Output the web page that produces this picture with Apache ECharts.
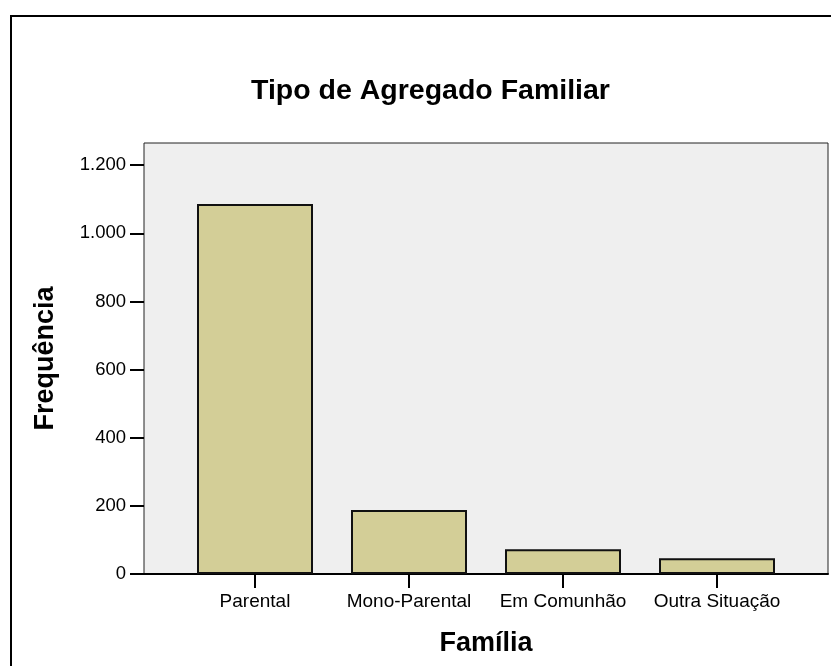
<!DOCTYPE html>
<html>
<head>
<meta charset="utf-8">
<script src="https://cdn.jsdelivr.net/npm/echarts@6/dist/echarts.min.js"></script>
<style>
  html, body { margin: 0; padding: 0; background: #fff; }
  #chart { width: 831px; height: 666px; }
</style>
</head>
<body>
<div id="chart"></div>
<script>
// dados
const familia = ['Parental', 'Mono-Parental', 'Em Comunhão', 'Outra Situação']
const frequencia = [1086, 188, 73, 46]
const yTicks = [0, 200, 400, 600, 800, 1000, 1200]

const FONT = "'Liberation Sans', Arial, Helvetica, sans-serif"

// 1.200 em vez de 1,200
function fmt (v) {
  return String(v).replace(/\B(?=(\d{3})+(?!\d))/g, '.')
}

let myChart = echarts.init(document.getElementById('chart'))
myChart.setOption({
  animation: false,
  backgroundColor: '#fff',
  textStyle: { fontFamily: FONT },
  title: {
    text: 'Tipo de Agregado Familiar',
    left: 246,
    top: 72,
    textStyle: { fontFamily: FONT, fontSize: 28.5, fontWeight: 'bold', color: '#000' },
  },
  graphic: [
    {
      type: 'rect',
      shape: { x: 11, y: 16, width: 900, height: 900 },
      style: { fill: null, stroke: '#000', lineWidth: 2 },
      silent: true,
    },
  ],
  grid: [
    // area cinzenta do grafico
    {
      left: 144, right: 3, top: 143, bottom: 92,
      show: true,
      backgroundColor: '#efefef',
      borderColor: '#222',
      borderWidth: 1,
    },
    // barras
    { left: 178, right: 37, top: 143, bottom: 92 },
  ],
  xAxis: [
    {
      gridIndex: 0,
      type: 'value',
      min: 0,
      max: 1,
      axisLine: { show: true, lineStyle: { color: '#000', width: 2 } },
      axisTick: { show: false },
      axisLabel: { show: false },
      splitLine: { show: false },
    },
    {
      gridIndex: 1,
      type: 'category',
      data: familia,
      name: 'Família',
      nameLocation: 'middle',
      nameGap: 56,
      nameTextStyle: { fontFamily: FONT, fontSize: 27, fontWeight: 'bold', color: '#000' },
      axisLine: { show: false },
      axisTick: { show: true, alignWithLabel: true, length: 14, lineStyle: { color: '#000', width: 2 } },
      axisLabel: { fontSize: 19, color: '#000', margin: 18, interval: 0 },
      splitLine: { show: false },
    },
  ],
  yAxis: [
    {
      gridIndex: 0,
      type: 'value',
      min: 0,
      max: 1265,
      interval: 200,
      name: 'Frequência',
      nameLocation: 'middle',
      nameGap: 85,
      nameRotate: 90,
      nameTextStyle: { fontFamily: FONT, fontSize: 27, fontWeight: 'bold', color: '#000' },
      axisLine: { show: false },
      axisTick: { show: true, length: 14, lineStyle: { color: '#000', width: 2 }, customValues: yTicks },
      axisLabel: { fontSize: 18.5, color: '#000', margin: 18, formatter: fmt, customValues: yTicks },
      splitLine: { show: false },
    },
    {
      gridIndex: 1,
      type: 'value',
      min: 0,
      max: 1265,
      show: false,
    },
  ],
  series: [
    {
      name: 'Frequência',
      type: 'bar',
      xAxisIndex: 1,
      yAxisIndex: 1,
      data: frequencia,
      barWidth: 116,
      itemStyle: {
        color: '#d3ce97',
        borderColor: '#111',
        borderWidth: 2,
      },
    },
  ],
})
</script>
</body>
</html>
